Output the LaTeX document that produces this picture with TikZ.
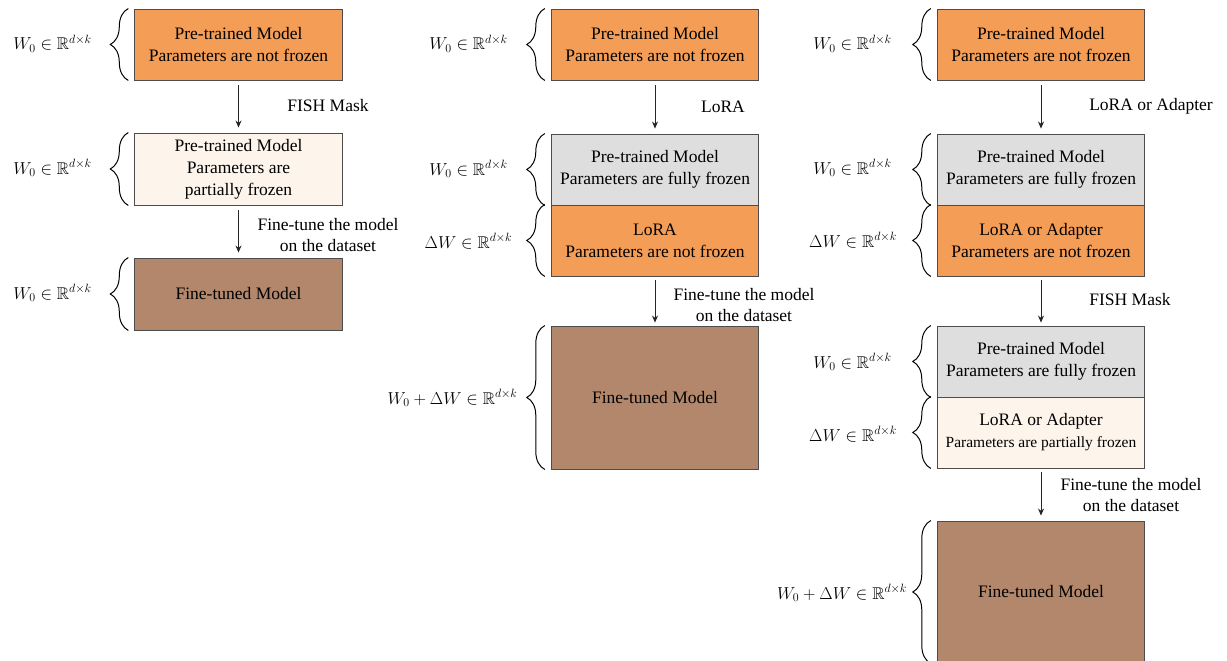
\documentclass[tikz,border=0pt]{standalone}
\usepackage{amsmath,amssymb}
\usepackage{fontspec}
\setmainfont{Liberation Serif}
\usetikzlibrary{decorations.pathreplacing,arrows.meta}
\definecolor{orng}{HTML}{F49D57}
\definecolor{frozen}{HTML}{DEDEDE}
\definecolor{cream}{HTML}{FDF5EC}
\definecolor{tuned}{HTML}{B3876B}
\tikzset{
  box/.style={draw=black!70, line width=0.9pt, minimum width=207.5pt, minimum height=71pt,
    align=center, inner sep=0pt, font=\fontsize{17.5}{22}\selectfont},
  lbl/.style={align=center, inner sep=0pt, font=\fontsize{17.5}{21}\selectfont},
  mlbl/.style={anchor=base, inner sep=0pt, font=\fontsize{17}{20}\selectfont},
  flow/.style={-{Stealth[length=7pt,width=6pt]}, line width=0.8pt, black!85},
  brc/.style={decorate, decoration={brace, amplitude=18pt}, line width=1pt}
}
\begin{document}
\begin{tikzpicture}[x=1pt,y=-1pt]
\useasboundingbox (0,0) rectangle (1227,661);
\clip (0,0) rectangle (1227,661);
% ---------- column 1 ----------
\node[box, fill=orng]  (a1) at (238.5,44.5) {Pre-trained Model\\Parameters are not frozen};
\node[box, fill=cream, minimum height=72pt] (a2) at (238.5,169) {Pre-trained Model\\Parameters are\\partially frozen};
\node[box, fill=tuned, minimum height=72pt] (a3) at (238.5,294) {Fine-tuned Model};
\draw[flow] ([yshift=-5pt]a1.south) -- ([yshift=5pt]a2.north);
\draw[flow] ([yshift=-5pt]a2.south) -- ([yshift=5pt]a3.north);
\node[lbl] (ta1) at (328,106) {FISH Mask};
\node[lbl] (ta2) at (328,235.5) {Fine-tune the model\\on the dataset};
\foreach \n in {a1,a2,a3} {\draw[brc] ([xshift=-6pt]\n.south west) -- ([xshift=-6pt]\n.north west);}
\node[mlbl] (la1) at (52.5,50) {$W_0\in\mathbb{R}^{d\times k}$};
\node[mlbl] (la2) at (52.5,174) {$W_0\in\mathbb{R}^{d\times k}$};
\node[mlbl] (la3) at (52.5,299) {$W_0\in\mathbb{R}^{d\times k}$};
% ---------- column 2 ----------
\node[box, fill=orng]   (b1) at (655,44.5) {Pre-trained Model\\Parameters are not frozen};
\node[box, fill=frozen] (b2) at (655,169.5) {Pre-trained Model\\Parameters are fully frozen};
\node[box, fill=orng]   (b3) at (655,240.5) {LoRA\\Parameters are not frozen};
\node[box, fill=tuned, minimum height=143pt] (b4) at (655,397.5) {Fine-tuned Model};
\draw[flow] ([yshift=-5pt]b1.south) -- ([yshift=5pt]b2.north);
\draw[flow] ([yshift=-4pt]b3.south) -- ([yshift=3pt]b4.north);
\node[lbl] (tb1) at (723,107) {LoRA};
\node[lbl] (tb2) at (744,305.5) {Fine-tune the model\\on the dataset};
\foreach \n in {b1,b2,b3,b4} {\draw[brc] ([xshift=-6pt]\n.south west) -- ([xshift=-6pt]\n.north west);}
\node[mlbl] (lb1) at (468.5,50) {$W_0\in\mathbb{R}^{d\times k}$};
\node[mlbl] (lb2) at (468.5,175) {$W_0\in\mathbb{R}^{d\times k}$};
\node[mlbl] (lb3) at (468.5,248) {$\Delta W\in\mathbb{R}^{d\times k}$};
\node[mlbl] (lb4) at (452.5,404) {$W_0+\Delta W\in\mathbb{R}^{d\times k}$};
% ---------- column 3 ----------
\node[box, fill=orng]   (c1) at (1041,44.5) {Pre-trained Model\\Parameters are not frozen};
\node[box, fill=frozen] (c2) at (1041,169.5) {Pre-trained Model\\Parameters are fully frozen};
\node[box, fill=orng]   (c3) at (1041,240.5) {LoRA or Adapter\\Parameters are not frozen};
\node[box, fill=frozen] (c4) at (1041,361.5) {Pre-trained Model\\Parameters are fully frozen};
\node[box, fill=cream]  (c5) at (1041,432.5) {LoRA or Adapter\\{\fontsize{15.5}{20}\selectfont Parameters are partially frozen}};
\node[box, fill=tuned, minimum height=142pt] (c6) at (1041,592) {Fine-tuned Model};
\draw[flow] ([yshift=-5pt]c1.south) -- ([yshift=5pt]c2.north);
\draw[flow] ([yshift=-4pt]c3.south) -- ([yshift=3pt]c4.north);
\draw[flow] ([yshift=-4pt]c5.south) -- ([yshift=5pt]c6.north);
\node[lbl] (tc1) at (1151,106) {LoRA or Adapter};
\node[lbl] (tc2) at (1130,300) {FISH Mask};
\node[lbl] (tc3) at (1131,495.5) {Fine-tune the model\\on the dataset};
\foreach \n in {c1,c2,c3,c4,c5,c6} {\draw[brc] ([xshift=-6pt]\n.south west) -- ([xshift=-6pt]\n.north west);}
\node[mlbl] (lc1) at (852.5,50) {$W_0\in\mathbb{R}^{d\times k}$};
\node[mlbl] (lc2) at (852.5,174) {$W_0\in\mathbb{R}^{d\times k}$};
\node[mlbl] (lc3) at (853,247) {$\Delta W\in\mathbb{R}^{d\times k}$};
\node[mlbl] (lc4) at (852.5,368) {$W_0\in\mathbb{R}^{d\times k}$};
\node[mlbl] (lc5) at (853,441) {$\Delta W\in\mathbb{R}^{d\times k}$};
\node[mlbl] (lc6) at (842,599) {$W_0+\Delta W\in\mathbb{R}^{d\times k}$};
\end{tikzpicture}
\end{document}
